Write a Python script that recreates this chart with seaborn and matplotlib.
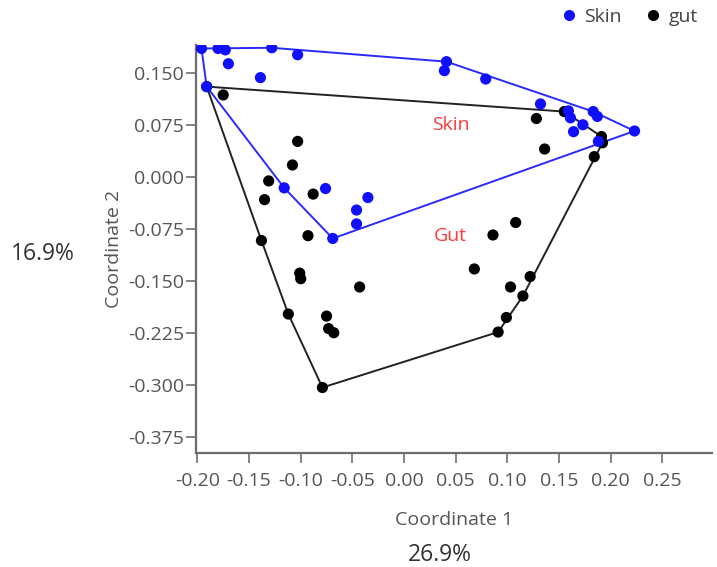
import numpy as np
import pandas as pd
import seaborn as sns
import matplotlib
matplotlib.use("Agg")
import matplotlib.pyplot as plt
from matplotlib.lines import Line2D

# PCoA coordinates per sample group
skin_x = [-0.196, -0.180, -0.173, -0.170, -0.128, -0.103, -0.139, -0.191,
          -0.116, -0.076, -0.035, -0.046, -0.046, -0.069,
          0.041, 0.039, 0.079, 0.132, 0.159, 0.161, 0.164, 0.173,
          0.183, 0.187, 0.223, 0.188]
skin_y = [0.185, 0.185, 0.183, 0.163, 0.186, 0.176, 0.143, 0.130,
          -0.016, -0.017, -0.030, -0.048, -0.068, -0.089,
          0.166, 0.153, 0.141, 0.105, 0.095, 0.085, 0.065, 0.075,
          0.094, 0.087, 0.066, 0.051]

gut_x = [-0.191, -0.175, -0.103, -0.108, -0.131, -0.135, -0.088, -0.138,
         -0.093, -0.101, -0.100, -0.043, -0.112, -0.075, -0.073, -0.068,
         -0.079, 0.128, 0.136, 0.155, 0.191, 0.192, 0.184, 0.108,
         0.086, 0.068, 0.122, 0.103, 0.115, 0.099, 0.091]
gut_y = [0.130, 0.118, 0.051, 0.017, -0.006, -0.033, -0.025, -0.092,
         -0.085, -0.139, -0.147, -0.159, -0.198, -0.201, -0.219, -0.225,
         -0.304, 0.084, 0.040, 0.094, 0.058, 0.049, 0.029, -0.066,
         -0.084, -0.133, -0.144, -0.159, -0.172, -0.203, -0.224]

x_ticks = [-0.20, -0.15, -0.10, -0.05, 0.00, 0.05, 0.10, 0.15, 0.20, 0.25]
y_ticks = [0.150, 0.075, 0.000, -0.075, -0.150, -0.225, -0.300, -0.375]

group_labels = ["Skin", "gut"]
group_colors = {"Skin": "#1010ff", "gut": "#000000"}


def convex_hull(px, py):
    pts = sorted(set(zip(px, py)))

    def cross(o, a, b):
        return (a[0] - o[0]) * (b[1] - o[1]) - (a[1] - o[1]) * (b[0] - o[0])

    lower, upper = [], []
    for p in pts:
        while len(lower) >= 2 and cross(lower[-2], lower[-1], p) <= 0:
            lower.pop()
        lower.append(p)
    for p in reversed(pts):
        while len(upper) >= 2 and cross(upper[-2], upper[-1], p) <= 0:
            upper.pop()
        upper.append(p)
    hull = lower[:-1] + upper[:-1]
    hull.append(hull[0])
    return np.array(hull)


df = pd.DataFrame({
    "x": gut_x + skin_x,
    "y": gut_y + skin_y,
    "group": ["gut"] * len(gut_x) + ["Skin"] * len(skin_x),
})

sns.set_style("white")
plt.rcParams["font.family"] = ["Open Sans", "DejaVu Sans"]

fig = plt.figure(figsize=(7.17, 5.67), dpi=100)
ax = fig.add_axes([0.2734, 0.2016, 0.7197, 0.719])

# hull outlines
for grp, xs, ys in [("gut", gut_x, gut_y), ("Skin", skin_x, skin_y)]:
    h = convex_hull(xs, ys)
    ax.plot(h[:, 0], h[:, 1], color="#222222" if grp == "gut" else "#2a2aff",
            lw=1.4, zorder=2)

sns.scatterplot(data=df, x="x", y="y", hue="group", hue_order=["gut", "Skin"],
                palette=group_colors, s=65, edgecolor="none", ax=ax, zorder=3,
                legend=False)

ax.set_xlim(-0.2013, 0.298)
ax.set_ylim(-0.398, 0.190)
ax.set_xticks(x_ticks)
ax.set_xticklabels([f"{v:.2f}" for v in x_ticks])
ax.set_yticks(y_ticks)
ax.set_yticklabels([f"{v:.3f}" for v in y_ticks])

for side in ["top", "right"]:
    ax.spines[side].set_visible(False)
for side in ["left", "bottom"]:
    ax.spines[side].set_color("#6e6e6e")
    ax.spines[side].set_linewidth(1.6)

ax.tick_params(axis="both", direction="out", length=7.5, width=1.2,
               color="#6e6e6e", labelcolor="#555555", labelsize=14,
               bottom=True, left=True)
ax.tick_params(axis="x", pad=6.5)
ax.tick_params(axis="y", pad=1)

ax.set_xlabel("Coordinate 1", fontsize=14, color="#555555", labelpad=15)
ax.set_ylabel("Coordinate 2", fontsize=14, color="#555555", labelpad=4)

ax.text(0.045, 0.075, "Skin", color="#ff3b3b", fontsize=14,
        ha="center", va="center")
ax.text(0.045, -0.085, "Gut", color="#ff3b3b", fontsize=14,
        ha="center", va="center")

fig.text(43 / 717, 1 - 254 / 567, "16.9%", fontsize=16.5, color="#333333",
         ha="center", va="center")
fig.text(440 / 717, 1 - 555 / 567, "26.9%", fontsize=16.5, color="#333333",
         ha="center", va="center")

# legend
handles = [Line2D([], [], marker="o", ls="none", markersize=8,
                  markerfacecolor=group_colors[g], markeredgecolor="none",
                  label=g) for g in group_labels]
fig.legend(handles=handles, loc="center right", bbox_to_anchor=(0.984, 1 - 17 / 567),
           ncol=2, frameon=False, fontsize=14, handletextpad=0.3,
           columnspacing=1.1, handlelength=1.0, labelcolor="#444444",
           borderaxespad=0)

fig.savefig("out.png", dpi=100)
